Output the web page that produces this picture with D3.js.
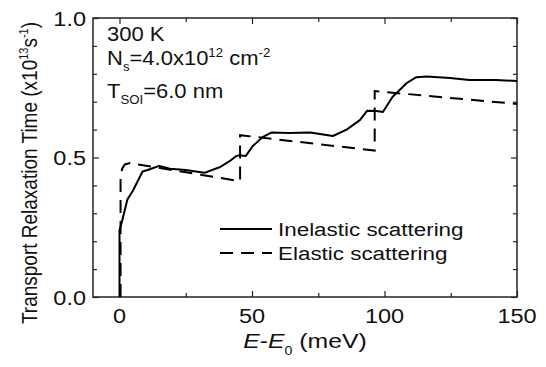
<!DOCTYPE html>
<html>
<head>
<meta charset="utf-8">
<script src="https://cdn.jsdelivr.net/npm/d3@7"></script>
<style>
  body { margin: 0; background: #fff; }
  svg { display: block; font-family: Arial, "Liberation Sans", sans-serif; }
</style>
</head>
<body>
<svg width="546" height="367"></svg>
<script>
// data: energy (meV) and relaxation time (x10^13 s^-1)
const inelasticE = [0, 0, 0.8, 3, 5, 8.7, 10.6, 15, 19, 25, 32, 38, 42, 44, 45.3, 47.6, 50.2, 54, 57.4, 64, 72, 80.5, 85.7, 90.7, 93.5, 97, 99.4, 103, 108.4, 112, 116, 124.7, 132, 142, 150];
const inelasticV = [0, 0.24, 0.265, 0.35, 0.38, 0.45, 0.455, 0.47, 0.46, 0.455, 0.445, 0.466, 0.49, 0.505, 0.508, 0.505, 0.54, 0.573, 0.59, 0.588, 0.59, 0.577, 0.60, 0.634, 0.668, 0.667, 0.663, 0.717, 0.767, 0.788, 0.79, 0.785, 0.778, 0.778, 0.774];

const elasticE = [0.4, 0.4, 1, 2, 4, 45.5, 45.5, 96.3, 96.3, 150];
const elasticV = [0, 0.43, 0.46, 0.475, 0.48, 0.415, 0.58, 0.525, 0.738, 0.692];

const xMajor = [0, 50, 100, 150];
const xMinor = [25, 75, 125];
const yMajor = [0, 0.5, 1.0];
const yMinor = [0.1, 0.2, 0.3, 0.4, 0.6, 0.7, 0.8, 0.9];

const svg = d3.select('svg');
const mLeft = 93, mRight = 517, mTop = 18, mBottom = 297;

const x = d3.scaleLinear().domain([-10, 150]).range([mLeft, mRight]);
const y = d3.scaleLinear().domain([0, 1]).range([mBottom, mTop]);

const axisColor = '#222';
const textColor = '#111';

// the original figure is a bit stretched sideways, so text gets a scaleX
const label = (parent, px, py, size, sx, anchor) => parent.append('text')
    .attr('transform', `translate(${px},${py}) scale(${sx},1)`)
    .attr('text-anchor', anchor || 'start')
    .attr('font-size', size).attr('fill', textColor);

// frame
svg.append('rect')
    .attr('x', mLeft).attr('y', mTop)
    .attr('width', mRight - mLeft).attr('height', mBottom - mTop)
    .attr('fill', 'none').attr('stroke', axisColor).attr('stroke-width', 1.5);

// ticks, pointing inward on all sides
const tickLayer = (axis, vals, size) => {
  const g = svg.append('g').call(axis.tickValues(vals).tickSize(size).tickFormat(''));
  g.select('.domain').remove();
  g.selectAll('line').attr('stroke', axisColor).attr('stroke-width', 1.2);
  return g;
};
tickLayer(d3.axisTop(x), xMajor, 6).attr('transform', `translate(0,${mBottom})`);
tickLayer(d3.axisTop(x), xMinor, 4).attr('transform', `translate(0,${mBottom})`);
tickLayer(d3.axisBottom(x), xMajor, 6).attr('transform', `translate(0,${mTop})`);
tickLayer(d3.axisBottom(x), xMinor, 4).attr('transform', `translate(0,${mTop})`);
tickLayer(d3.axisRight(y), yMajor, 6).attr('transform', `translate(${mLeft},0)`);
tickLayer(d3.axisRight(y), yMinor, 4).attr('transform', `translate(${mLeft},0)`);
tickLayer(d3.axisLeft(y), yMajor, 6).attr('transform', `translate(${mRight},0)`);
tickLayer(d3.axisLeft(y), yMinor, 4).attr('transform', `translate(${mRight},0)`);

// tick labels
xMajor.forEach(d => label(svg, x(d), 323, 21, 1.12, 'middle').text(d));
yMajor.forEach(d => label(svg, mLeft - 7, y(d) + 7.5, 21, 1.12, 'end').text(d3.format('.1f')(d)));

// axis titles
const xt = label(svg, (mLeft + mRight) / 2, 348, 21, 1.18, 'middle');
xt.append('tspan').attr('font-style', 'italic').text('E');
xt.append('tspan').text('-');
xt.append('tspan').attr('font-style', 'italic').text('E');
xt.append('tspan').attr('font-size', 12).attr('dy', 7).text('0');
xt.append('tspan').attr('dy', -7).text(' (meV)');

const yt = svg.append('text')
    .attr('transform', `translate(37,173) rotate(-90) scale(1,1.15)`)
    .attr('text-anchor', 'middle').attr('font-size', 19).attr('fill', textColor);
yt.append('tspan').text('Transport Relaxation Time (x10');
yt.append('tspan').attr('font-size', 11).attr('dy', -8).text('13');
yt.append('tspan').attr('dy', 8).text('s');
yt.append('tspan').attr('font-size', 11).attr('dy', -8).text('-1');
yt.append('tspan').attr('dy', 8).text(')');

// annotations
label(svg, 107, 41, 20, 1.1).text('300 K');
const ns = label(svg, 107, 65, 20, 1.1);
ns.append('tspan').text('N');
ns.append('tspan').attr('font-size', 12).attr('dy', 6).text('s');
ns.append('tspan').attr('dy', -6).text('=4.0x10');
ns.append('tspan').attr('font-size', 12).attr('dy', -8).text('12');
ns.append('tspan').attr('dy', 8).text(' cm');
ns.append('tspan').attr('font-size', 12).attr('dy', -8).text('-2');
const ts = label(svg, 107, 98, 20, 1.1);
ts.append('tspan').text('T');
ts.append('tspan').attr('font-size', 12).attr('dy', 6).text('SOI');
ts.append('tspan').attr('dy', -6).text('=6.0 nm');

// curves
const line = d3.line().x(d => x(d[0])).y(d => y(d[1]));
const inelastic = inelasticE.map((e, i) => [e, inelasticV[i]]);
const elastic = elasticE.map((e, i) => [e, elasticV[i]]);

svg.append('path').datum(elastic)
    .attr('d', line).attr('fill', 'none')
    .attr('stroke', '#000').attr('stroke-width', 2)
    .attr('stroke-dasharray', '13,8');
svg.append('path').datum(inelastic)
    .attr('d', line).attr('fill', 'none')
    .attr('stroke', '#000').attr('stroke-width', 2)
    .attr('stroke-linejoin', 'round');

// legend
const legend = svg.append('g');
legend.append('line').attr('x1', 220).attr('x2', 272).attr('y1', 229).attr('y2', 229)
    .attr('stroke', '#000').attr('stroke-width', 2);
legend.append('line').attr('x1', 220).attr('x2', 272).attr('y1', 253).attr('y2', 253)
    .attr('stroke', '#000').attr('stroke-width', 2).attr('stroke-dasharray', '13,8');
label(legend, 278, 236, 19, 1.18).text('Inelastic scattering');
label(legend, 278, 260, 19, 1.18).text('Elastic scattering');
</script>
</body>
</html>
